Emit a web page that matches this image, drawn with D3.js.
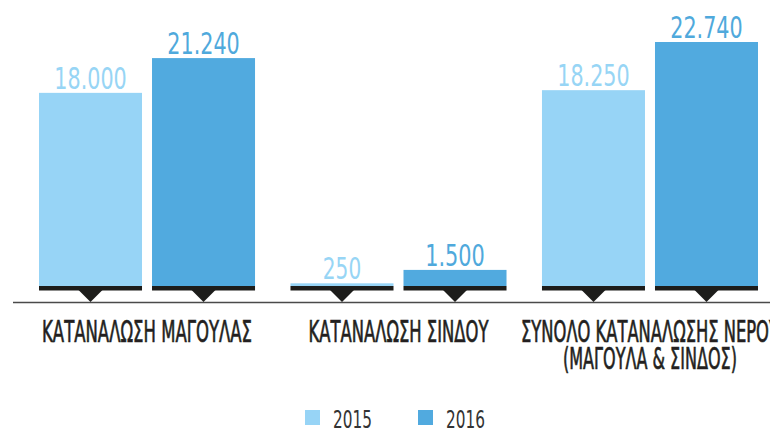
<!DOCTYPE html>
<html><head><meta charset="utf-8">
<script src="https://cdn.jsdelivr.net/npm/d3@7/dist/d3.min.js"></script>
<style>
html,body{margin:0;padding:0;background:#fff;}
svg{display:block;}
text{font-family:"Liberation Sans Narrow","DejaVu Sans Condensed","Liberation Sans",sans-serif;}
</style></head>
<body>
<svg id="chart" width="770" height="430"></svg>
<script>
const categories = ["ΚΑΤΑΝΑΛΩΣΗ ΜΑΓΟΥΛΑΣ", "ΚΑΤΑΝΑΛΩΣΗ ΣΙΝΔΟΥ", "ΣΥΝΟΛΟ ΚΑΤΑΝΑΛΩΣΗΣ ΝΕΡΟΥ\n(ΜΑΓΟΥΛΑ & ΣΙΝΔΟΣ)"];
const years = ["2015", "2016"];
const values2015 = [18000, 250, 18250];
const values2016 = [21240, 1500, 22740];
const valueLabels2015 = ["18.000", "250", "18.250"];
const valueLabels2016 = ["21.240", "1.500", "22.740"];
const colors = {"2015": "#97d4f6", "2016": "#51aadf"};
const labelColors = {"2015": "#97d5f5", "2016": "#4fa9dc"};

const svg = d3.select("#chart");
const baseY = 286;
const y = d3.scaleLinear().domain([0, 22740]).range([baseY, 42]);
const x0 = d3.scaleBand().domain(d3.range(categories.length)).range([39, 758]).paddingInner(0.141).paddingOuter(0);
const x1 = d3.scaleBand().domain(years).range([0, x0.bandwidth()]).paddingInner(0.0885).paddingOuter(0);

const data = categories.map((c, i) => ({
  cat: i,
  items: [
    {year: "2015", value: values2015[i], label: valueLabels2015[i]},
    {year: "2016", value: values2016[i], label: valueLabels2016[i]}
  ]
}));

// squeeze a text horizontally to a target width, anchored at (x, y)
function fitText(sel, x, yy, width, anchor) {
  sel.attr("x", 0).attr("y", 0).attr("text-anchor", anchor);
  const nat = sel.node().getComputedTextLength();
  const k = width / nat;
  sel.attr("transform", `translate(${x},${yy}) scale(${k},1)`);
}

// axis line
svg.append("line").attr("x1", 13).attr("x2", 770).attr("y1", 302.5).attr("y2", 302.5)
  .attr("stroke", "#4a4a4a").attr("stroke-width", 1.5);

const g = svg.selectAll("g.grp").data(data).join("g").attr("class", "grp")
  .attr("transform", d => `translate(${x0(d.cat)},0)`);

const bw = x1.bandwidth();
const item = g.selectAll("g.item").data(d => d.items).join("g").attr("class", "item")
  .attr("transform", d => `translate(${x1(d.year)},0)`);

item.append("rect")
  .attr("x", 0).attr("width", bw)
  .attr("y", d => y(d.value)).attr("height", d => baseY - y(d.value))
  .attr("fill", d => colors[d.year]);

item.append("rect").attr("x", 0).attr("width", bw).attr("y", baseY).attr("height", 4.5).attr("fill", "#1d1d1b");
item.append("path")
  .attr("d", `M${bw/2 - 12},${baseY + 4}L${bw/2 + 12},${baseY + 4}L${bw/2},${302}Z`)
  .attr("fill", "#1d1d1b");

const labelWidth = s => {
  const digits = s.replace(/[^0-9]/g, "").length;
  const dots = s.length - digits;
  return digits * 12.8 + dots * 8.5;
};
item.append("text")
  .attr("font-size", 30)
  .attr("fill", d => labelColors[d.year])
  .text(d => d.label)
  .each(function(d) { fitText(d3.select(this), bw / 2, y(d.value) - 4, labelWidth(d.label), "middle"); });

// category labels
const labelLens = [[210], [180], [258, 174]];
g.each(function(d, i) {
  const lines = categories[i].split("\n");
  const cx = x0.bandwidth() / 2;
  lines.forEach((ln, k) => {
    const t = d3.select(this).append("text")
      .attr("font-size", 31)
      .attr("fill", "#231f20")
      .attr("stroke", "#231f20")
      .attr("stroke-width", 0.7)
      .text(ln);
    fitText(t, cx, 342 + k * 27, labelLens[i][k], "middle");
  });
});

// legend
const legend = svg.append("g");
const legX = [305, 418];
years.forEach((yr, i) => {
  legend.append("rect").attr("x", legX[i]).attr("y", 410).attr("width", 15).attr("height", 15).attr("fill", colors[yr]);
  const t = legend.append("text").attr("font-size", 25).attr("fill", "#333").text(yr);
  fitText(t, legX[i] + 28, 428, 39, "start");
});
</script>
</body></html>
